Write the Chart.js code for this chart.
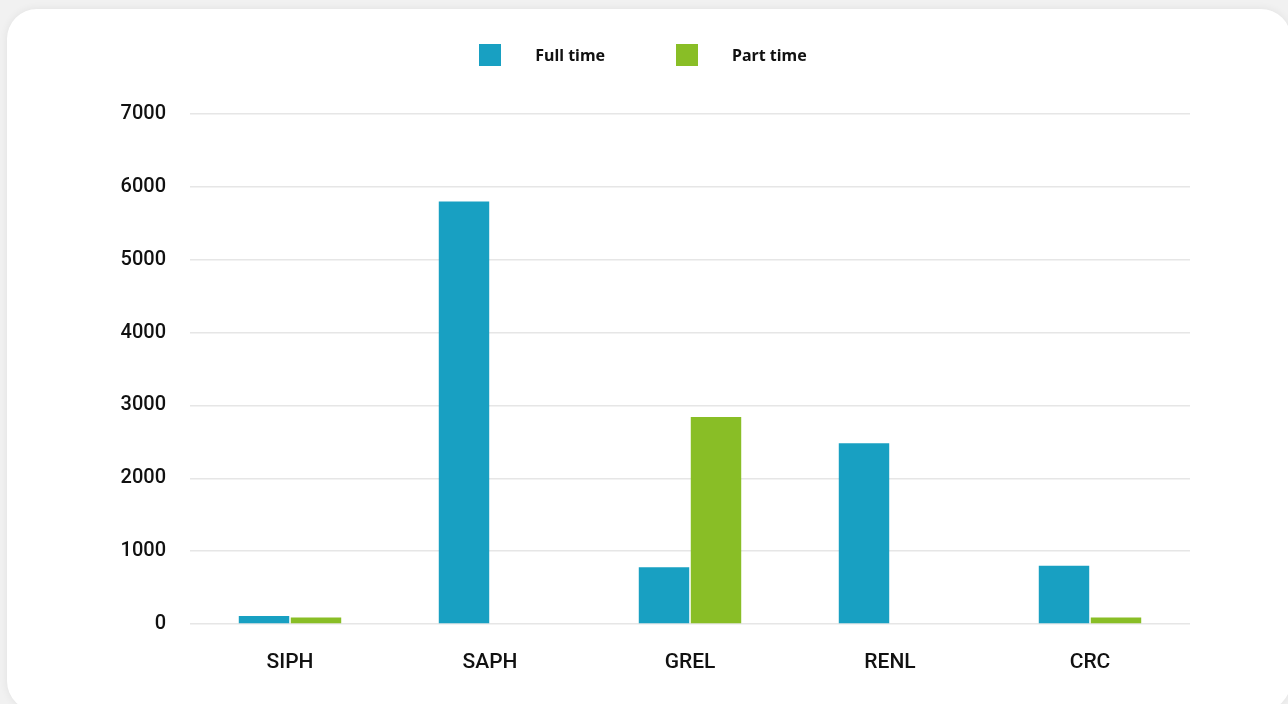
<!DOCTYPE html>
<html>
<head>
<meta charset="utf-8">
<script src="https://cdn.jsdelivr.net/npm/chart.js@4/dist/chart.umd.min.js"></script>
<style>
  html, body { margin: 0; padding: 0; }
  body {
    width: 1288px; height: 704px; overflow: hidden; position: relative;
    background: #f1f1f1;
    font-family: "Noto Sans", sans-serif;
  }
  .card {
    position: absolute; left: 7px; top: 9px; width: 1284px; height: 702px;
    background: #fff; border-radius: 30px;
    box-shadow: 0 0 8px rgba(0, 0, 0, 0.07);
  }
  #legend {
    position: absolute; top: 44px; left: 0; width: 1286px;
    display: flex; justify-content: center; gap: 71px;
    z-index: 2;
  }
  #legend .item { display: flex; align-items: center; height: 22px; }
  #legend .box { width: 22px; height: 22px; margin-right: 34px; }
  #legend .text { font-weight: 700; font-size: 16px; color: #111; line-height: 22px; }
  .wrap { position: absolute; left: 0; top: 0; width: 1288px; height: 704px; }
</style>
</head>
<body>
<div class="card"></div>
<div id="legend"></div>
<div class="wrap"><canvas id="staffChart"></canvas></div>
<script>
Chart.defaults.maintainAspectRatio = false;
Chart.defaults.font.family = 'Roboto, "Noto Sans", sans-serif';
Chart.defaults.color = '#111';

// Staff headcount per organisation
const categories = ['SIPH', 'SAPH', 'GREL', 'RENL', 'CRC'];
const fullTime = [110, 5800, 780, 2480, 800];
const partTime = [90, 0, 2840, 0, 90];
const yTicks = [0, 1000, 2000, 3000, 4000, 5000, 6000, 7000];

const seriesNames = ['Full time', 'Part time'];
const seriesColors = ['#18a0c2', '#89be26'];

const staffCtx = document.getElementById('staffChart').getContext('2d');
const staffChart = new Chart(staffCtx, {
    type: 'bar',
    data: {
        labels: categories,
        datasets: [{
            label: seriesNames[0],
            data: fullTime,
            backgroundColor: seriesColors[0],
            barPercentage: 0.97,
            categoryPercentage: 0.52,
        }, {
            label: seriesNames[1],
            data: partTime,
            backgroundColor: seriesColors[1],
            barPercentage: 0.97,
            categoryPercentage: 0.52,
        }]
    },
    options: {
        responsive: true,
        animation: false,
        layout: {
            padding: { left: 0, right: 98, top: 114, bottom: 0 }
        },
        scales: {
            x: {
                grid: { display: false, drawTicks: false },
                border: { display: false },
                ticks: { padding: 26, font: { size: 21, weight: 500 } },
                afterFit: (scale) => { scale.height = 80; },
            },
            y: {
                min: yTicks[0],
                max: yTicks[yTicks.length - 1],
                afterBuildTicks: (scale) => {
                    scale.ticks = yTicks.map(v => ({ value: v }));
                },
                grid: { color: '#e6e6e6', lineWidth: 1.5, drawTicks: false },
                border: { display: false },
                ticks: {
                    padding: 24,
                    font: { size: 20, weight: 500 },
                    callback: (value) => String(value),
                },
                afterFit: (scale) => { scale.width = 190; },
            }
        },
        plugins: {
            legend: { display: false },
            tooltip: { enabled: false },
        },
    }
});

// simple html legend above the plot
const legendEl = document.getElementById('legend');
staffChart.data.datasets.forEach(ds => {
    const item = document.createElement('div');
    item.className = 'item';
    item.innerHTML = '<span class="box" style="background:' + ds.backgroundColor + '"></span>' +
        '<span class="text">' + ds.label + '</span>';
    legendEl.appendChild(item);
});
</script>
</body>
</html>
